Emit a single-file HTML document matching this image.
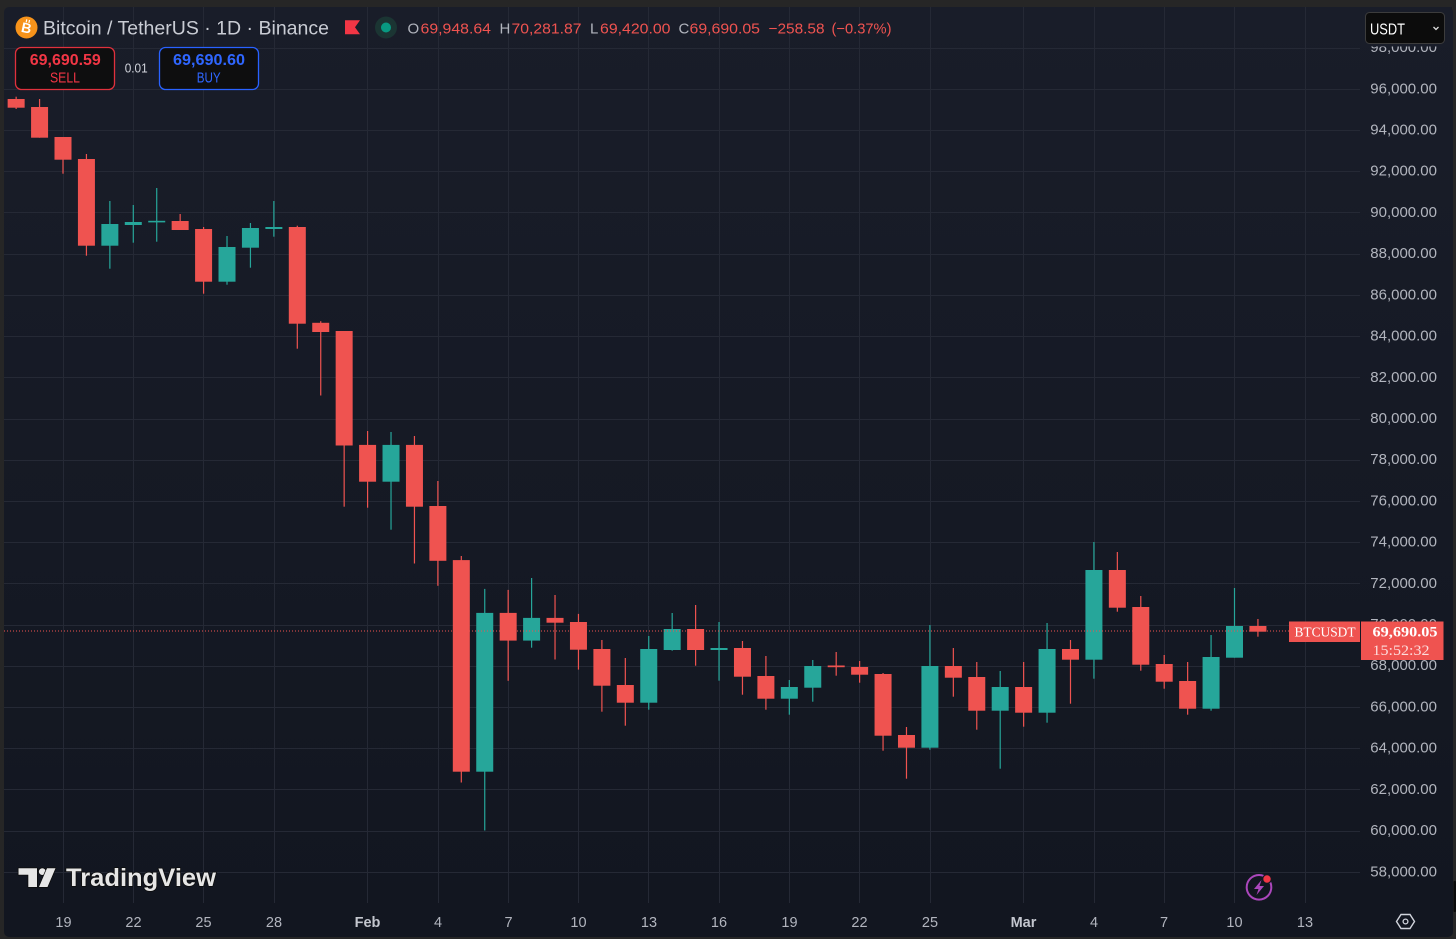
<!DOCTYPE html>
<html><head><meta charset="utf-8"><style>
html,body{margin:0;padding:0;background:#262626;}
svg{display:block;}
text{font-family:"Liberation Sans",sans-serif;}
</style></head><body>
<svg width="1456" height="939" viewBox="0 0 1456 939" xmlns="http://www.w3.org/2000/svg">
<defs>
<linearGradient id="bg" x1="0" y1="0" x2="0" y2="1">
<stop offset="0" stop-color="#191d29"/>
<stop offset="1" stop-color="#121620"/>
</linearGradient>
</defs>
<rect x="0" y="0" width="1456" height="939" fill="#262626"/>
<rect x="4" y="7" width="1449" height="930" rx="5" fill="url(#bg)"/>
<rect x="1453.5" y="881" width="2.5" height="31" rx="1" fill="#0a0a0a"/>

<!-- horizontal grid -->
<g stroke="#252935" stroke-width="1">
<line x1="4" x2="1360" y1="48.5" y2="48.5"/>
<line x1="4" x2="1360" y1="89.5" y2="89.5"/>
<line x1="4" x2="1360" y1="130.5" y2="130.5"/>
<line x1="4" x2="1360" y1="171.5" y2="171.5"/>
<line x1="4" x2="1360" y1="212.5" y2="212.5"/>
<line x1="4" x2="1360" y1="254.5" y2="254.5"/>
<line x1="4" x2="1360" y1="295.5" y2="295.5"/>
<line x1="4" x2="1360" y1="336.5" y2="336.5"/>
<line x1="4" x2="1360" y1="377.5" y2="377.5"/>
<line x1="4" x2="1360" y1="419.5" y2="419.5"/>
<line x1="4" x2="1360" y1="460.5" y2="460.5"/>
<line x1="4" x2="1360" y1="501.5" y2="501.5"/>
<line x1="4" x2="1360" y1="542.5" y2="542.5"/>
<line x1="4" x2="1360" y1="583.5" y2="583.5"/>
<line x1="4" x2="1360" y1="625.5" y2="625.5"/>
<line x1="4" x2="1360" y1="666.5" y2="666.5"/>
<line x1="4" x2="1360" y1="707.5" y2="707.5"/>
<line x1="4" x2="1360" y1="748.5" y2="748.5"/>
<line x1="4" x2="1360" y1="789.5" y2="789.5"/>
<line x1="4" x2="1360" y1="831.5" y2="831.5"/>
<line x1="4" x2="1360" y1="872.5" y2="872.5"/>
</g>
<!-- vertical grid -->
<g stroke="#252935" stroke-width="1">
<line x1="63.5" x2="63.5" y1="7" y2="903"/>
<line x1="133.5" x2="133.5" y1="7" y2="903"/>
<line x1="203.5" x2="203.5" y1="7" y2="903"/>
<line x1="274.5" x2="274.5" y1="7" y2="903"/>
<line x1="367.5" x2="367.5" y1="7" y2="903"/>
<line x1="438.5" x2="438.5" y1="7" y2="903"/>
<line x1="508.5" x2="508.5" y1="7" y2="903"/>
<line x1="578.5" x2="578.5" y1="7" y2="903"/>
<line x1="648.5" x2="648.5" y1="7" y2="903"/>
<line x1="719.5" x2="719.5" y1="7" y2="903"/>
<line x1="789.5" x2="789.5" y1="7" y2="903"/>
<line x1="859.5" x2="859.5" y1="7" y2="903"/>
<line x1="930.5" x2="930.5" y1="7" y2="903"/>
<line x1="1023.5" x2="1023.5" y1="7" y2="903"/>
<line x1="1094.5" x2="1094.5" y1="7" y2="903"/>
<line x1="1164.5" x2="1164.5" y1="7" y2="903"/>
<line x1="1234.5" x2="1234.5" y1="7" y2="903"/>
<line x1="1305.5" x2="1305.5" y1="7" y2="903"/>
</g>

<!-- candles red -->
<g fill="#ef5350">
<rect x="15.54" y="96.7" width="1.2" height="12.3"/><rect x="7.64" y="99" width="17" height="8.7"/>
<rect x="38.97" y="99" width="1.2" height="38.7"/><rect x="31.07" y="107" width="17" height="30.7"/>
<rect x="62.4" y="137" width="1.2" height="36.7"/><rect x="54.5" y="137" width="17" height="22.7"/>
<rect x="85.83" y="154" width="1.2" height="101.7"/><rect x="77.93" y="159" width="17" height="86.7"/>
<rect x="179.55" y="214" width="1.2" height="16"/><rect x="171.65" y="221" width="17" height="9"/>
<rect x="202.98" y="227" width="1.2" height="66.7"/><rect x="195.08" y="229" width="17" height="52.7"/>
<rect x="296.7" y="225.7" width="1.2" height="123"/><rect x="288.8" y="227" width="17" height="96.7"/>
<rect x="320.13" y="321.2" width="1.2" height="74.3"/><rect x="312.23" y="322.8" width="17" height="9.2"/>
<rect x="343.56" y="331" width="1.2" height="175.7"/><rect x="335.66" y="331" width="17" height="114.5"/>
<rect x="366.99" y="431" width="1.2" height="76.7"/><rect x="359.09" y="444.9" width="17" height="36.8"/>
<rect x="413.85" y="436" width="1.2" height="127.5"/><rect x="405.95" y="444.9" width="17" height="61.8"/>
<rect x="437.28" y="481" width="1.2" height="104.8"/><rect x="429.38" y="506" width="17" height="54.8"/>
<rect x="460.71" y="556" width="1.2" height="226.5"/><rect x="452.81" y="560.1" width="17" height="211.6"/>
<rect x="507.57" y="589.9" width="1.2" height="90.9"/><rect x="499.67" y="612.9" width="17" height="27.7"/>
<rect x="554.43" y="595" width="1.2" height="64.5"/><rect x="546.53" y="617.9" width="17" height="4.8"/>
<rect x="577.86" y="613.9" width="1.2" height="55.7"/><rect x="569.96" y="622" width="17" height="27.7"/>
<rect x="601.29" y="640" width="1.2" height="71.7"/><rect x="593.39" y="649" width="17" height="36.7"/>
<rect x="624.72" y="658" width="1.2" height="67.7"/><rect x="616.82" y="685" width="17" height="17.7"/>
<rect x="695.01" y="605" width="1.2" height="60.7"/><rect x="687.11" y="629" width="17" height="21"/>
<rect x="741.87" y="641" width="1.2" height="53.7"/><rect x="733.97" y="648" width="17" height="28.7"/>
<rect x="765.3" y="656" width="1.2" height="53.7"/><rect x="757.4" y="676" width="17" height="22.7"/>
<rect x="835.59" y="652" width="1.2" height="23.7"/><rect x="827.69" y="665.5" width="17" height="1.7"/>
<rect x="859.02" y="661" width="1.2" height="21.7"/><rect x="851.12" y="667" width="17" height="7.7"/>
<rect x="882.45" y="673" width="1.2" height="77.7"/><rect x="874.55" y="674" width="17" height="61.7"/>
<rect x="905.88" y="727" width="1.2" height="51.7"/><rect x="897.98" y="735" width="17" height="12.7"/>
<rect x="952.74" y="648" width="1.2" height="48.7"/><rect x="944.84" y="666" width="17" height="11.7"/>
<rect x="976.17" y="662" width="1.2" height="67.7"/><rect x="968.27" y="677" width="17" height="33.7"/>
<rect x="1023.03" y="662" width="1.2" height="64.7"/><rect x="1015.13" y="687" width="17" height="25.7"/>
<rect x="1069.89" y="640" width="1.2" height="63.7"/><rect x="1061.99" y="649" width="17" height="10.7"/>
<rect x="1116.75" y="552" width="1.2" height="59.7"/><rect x="1108.85" y="570" width="17" height="37.7"/>
<rect x="1140.18" y="596" width="1.2" height="74.7"/><rect x="1132.28" y="607" width="17" height="57.7"/>
<rect x="1163.61" y="655" width="1.2" height="33.7"/><rect x="1155.71" y="664" width="17" height="17.7"/>
<rect x="1187.04" y="662" width="1.2" height="52.7"/><rect x="1179.14" y="681" width="17" height="27.7"/>
<rect x="1257.33" y="619" width="1.2" height="17.7"/><rect x="1249.43" y="626" width="17" height="5.7"/>
</g>
<!-- candles green -->
<g fill="#26a69a">
<rect x="109.26" y="201" width="1.2" height="67.7"/><rect x="101.36" y="224" width="17" height="21.7"/>
<rect x="132.69" y="205" width="1.2" height="37.7"/><rect x="124.79" y="222" width="17" height="3"/>
<rect x="156.12" y="188" width="1.2" height="53.7"/><rect x="148.22" y="220.8" width="17" height="1.6"/>
<rect x="226.41" y="236" width="1.2" height="48.7"/><rect x="218.51" y="247" width="17" height="34.7"/>
<rect x="249.84" y="223" width="1.2" height="44.7"/><rect x="241.94" y="228" width="17" height="19.7"/>
<rect x="273.27" y="201" width="1.2" height="35.7"/><rect x="265.37" y="227" width="17" height="2"/>
<rect x="390.42" y="432" width="1.2" height="97.7"/><rect x="382.52" y="444.9" width="17" height="36.8"/>
<rect x="484.14" y="588.9" width="1.2" height="241.6"/><rect x="476.24" y="612.9" width="17" height="158.8"/>
<rect x="531" y="578" width="1.2" height="69.7"/><rect x="523.1" y="617.9" width="17" height="22.7"/>
<rect x="648.15" y="636" width="1.2" height="73.7"/><rect x="640.25" y="649" width="17" height="53.7"/>
<rect x="671.58" y="613" width="1.2" height="37.7"/><rect x="663.68" y="629" width="17" height="21"/>
<rect x="718.44" y="622" width="1.2" height="58.7"/><rect x="710.54" y="648" width="17" height="2"/>
<rect x="788.73" y="680" width="1.2" height="34.7"/><rect x="780.83" y="687" width="17" height="11.7"/>
<rect x="812.16" y="660" width="1.2" height="41.7"/><rect x="804.26" y="666" width="17" height="21.7"/>
<rect x="929.31" y="625" width="1.2" height="124.7"/><rect x="921.41" y="666" width="17" height="81.7"/>
<rect x="999.6" y="671" width="1.2" height="97.7"/><rect x="991.7" y="687" width="17" height="23.7"/>
<rect x="1046.46" y="623" width="1.2" height="99.7"/><rect x="1038.56" y="649" width="17" height="63.7"/>
<rect x="1093.32" y="542" width="1.2" height="136.7"/><rect x="1085.42" y="570" width="17" height="89.7"/>
<rect x="1210.47" y="635" width="1.2" height="75.7"/><rect x="1202.57" y="657" width="17" height="51.7"/>
<rect x="1233.9" y="588" width="1.2" height="69.7"/><rect x="1226" y="626" width="17" height="31.7"/>
</g>

<!-- last price dotted line -->
<line x1="4" x2="1289" y1="631" y2="631" stroke="#ef5350" stroke-width="1" stroke-dasharray="1 2"/>

<!-- price axis labels -->
<g font-size="15" fill="#b2b5be" text-anchor="end">
<text x="1437" y="52.1">98,000.00</text>
<text x="1437" y="93.3">96,000.00</text>
<text x="1437" y="134.5">94,000.00</text>
<text x="1437" y="175.7">92,000.00</text>
<text x="1437" y="216.9">90,000.00</text>
<text x="1437" y="258.1">88,000.00</text>
<text x="1437" y="299.4">86,000.00</text>
<text x="1437" y="340.6">84,000.00</text>
<text x="1437" y="381.8">82,000.00</text>
<text x="1437" y="423">80,000.00</text>
<text x="1437" y="464.2">78,000.00</text>
<text x="1437" y="505.4">76,000.00</text>
<text x="1437" y="546.6">74,000.00</text>
<text x="1437" y="587.8">72,000.00</text>
<text x="1437" y="629">70,000.00</text>
<text x="1437" y="670.2">68,000.00</text>
<text x="1437" y="711.5">66,000.00</text>
<text x="1437" y="752.7">64,000.00</text>
<text x="1437" y="793.9">62,000.00</text>
<text x="1437" y="835.1">60,000.00</text>
<text x="1437" y="876.3">58,000.00</text>
</g>
<!-- clip mask for top label -->
<rect x="1361" y="7" width="91" height="39.5" fill="#191d29"/>

<!-- price labels -->
<rect x="1289" y="621.5" width="71" height="20.5" fill="#ef5350"/>
<text x="1294.5" y="636.5" font-size="14" fill="#ffffff" textLength="61" lengthAdjust="spacingAndGlyphs" style="font-family:'Liberation Serif',serif">BTCUSDT</text>
<rect x="1361" y="621.5" width="82.5" height="38.5" fill="#ef5350"/>
<text x="1372.5" y="636.5" font-size="15" font-weight="bold" fill="#ffffff" textLength="65" lengthAdjust="spacingAndGlyphs" style="font-family:'Liberation Serif',serif">69,690.05</text>
<text x="1372.5" y="655" font-size="15" fill="#fcdcdc" textLength="57" lengthAdjust="spacingAndGlyphs" style="font-family:'Liberation Serif',serif">15:52:32</text>

<!-- USDT button -->
<rect x="1365.5" y="12.5" width="79" height="31" rx="4" fill="#0c0c0c" stroke="#3c3c3c" stroke-width="1"/>
<text x="1370" y="34.3" font-size="16" fill="#ffffff" textLength="35" lengthAdjust="spacingAndGlyphs">USDT</text>
<polyline points="1433.5,27 1436,29.5 1438.5,27" fill="none" stroke="#dddddd" stroke-width="1.3"/>

<!-- time axis -->
<g font-size="14.5" fill="#b2b5be" text-anchor="middle">
<text x="63.5" y="927">19</text>
<text x="133.5" y="927">22</text>
<text x="203.5" y="927">25</text>
<text x="274" y="927">28</text>
<text x="367.5" y="927" font-weight="bold" fill="#c3c6ce">Feb</text>
<text x="438" y="927">4</text>
<text x="508.5" y="927">7</text>
<text x="578.5" y="927">10</text>
<text x="649" y="927">13</text>
<text x="719" y="927">16</text>
<text x="789.5" y="927">19</text>
<text x="859.5" y="927">22</text>
<text x="930" y="927">25</text>
<text x="1023.5" y="927" font-weight="bold" fill="#c3c6ce">Mar</text>
<text x="1094" y="927">4</text>
<text x="1164" y="927">7</text>
<text x="1234.5" y="927">10</text>
<text x="1305" y="927">13</text>
</g>

<!-- settings hexagon -->
<polygon points="1396.5,921.5 1401,914.5 1410,914.5 1414.5,921.5 1410,928.5 1401,928.5" fill="none" stroke="#d1d4dc" stroke-width="1.4"/>
<circle cx="1405.5" cy="921.5" r="2.4" fill="none" stroke="#d1d4dc" stroke-width="1.3"/>

<!-- lightning icon -->
<circle cx="1259" cy="887.3" r="12.3" fill="none" stroke="#ab47bc" stroke-width="2"/>
<polygon points="1261.5,880 1254,889 1258.5,889 1256.5,895 1264,886 1259.5,886" fill="#ab47bc"/>
<circle cx="1267" cy="879" r="4.3" fill="#f23645" stroke="#131722" stroke-width="1.2"/>

<!-- TradingView logo -->
<g fill="#e6e6e6" stroke="#0b0b0b" stroke-width="1.5" paint-order="stroke" stroke-linejoin="round">
<path d="M18.5 868.3 H37 V887 H28.3 V874.7 H18.5 Z"/>
<circle cx="42.3" cy="871.6" r="3.4"/>
<polygon points="47,868.3 55.5,868.3 47.5,887 39,887"/>
<text x="66" y="886" font-size="25" font-weight="bold" textLength="150" lengthAdjust="spacingAndGlyphs">TradingView</text>
</g>

<!-- header -->
<circle cx="26.5" cy="27.5" r="11" fill="#f7931a"/>
<text x="26.5" y="32.8" font-size="14" font-weight="bold" fill="#ffffff" text-anchor="middle" transform="rotate(12 26.5 27.5)">B</text>
<rect x="24.5" y="19.5" width="1.2" height="3" fill="#fff" transform="rotate(12 26.5 27.5)"/>
<rect x="27.3" y="19.5" width="1.2" height="3" fill="#fff" transform="rotate(12 26.5 27.5)"/>
<text x="43" y="34.7" font-size="19.5" fill="#c9ccd4" textLength="286" lengthAdjust="spacingAndGlyphs">Bitcoin / TetherUS · 1D · Binance</text>
<polygon points="345,20.3 360,20.3 355,27.3 360,34.3 345,34.3" fill="#f23645"/>
<circle cx="386" cy="27.5" r="11" fill="#1b3533"/>
<circle cx="386" cy="27.5" r="5" fill="#089981"/>

<g font-size="15">
<text x="407.5" y="33.3" fill="#b2b5be">O</text>
<text x="420.5" y="33.3" fill="#ef5350" textLength="70.5" lengthAdjust="spacingAndGlyphs">69,948.64</text>
<text x="499.5" y="33.3" fill="#b2b5be">H</text>
<text x="511.5" y="33.3" fill="#ef5350" textLength="70" lengthAdjust="spacingAndGlyphs">70,281.87</text>
<text x="590" y="33.3" fill="#b2b5be">L</text>
<text x="600" y="33.3" fill="#ef5350" textLength="70.5" lengthAdjust="spacingAndGlyphs">69,420.00</text>
<text x="678.5" y="33.3" fill="#b2b5be">C</text>
<text x="689.5" y="33.3" fill="#ef5350" textLength="70.5" lengthAdjust="spacingAndGlyphs">69,690.05</text>
<text x="768.5" y="33.3" fill="#ef5350" textLength="56" lengthAdjust="spacingAndGlyphs">−258.58</text>
<text x="831.5" y="33.3" fill="#ef5350" textLength="60" lengthAdjust="spacingAndGlyphs">(−0.37%)</text>
</g>

<!-- sell / buy -->
<rect x="15.5" y="47.5" width="99" height="42" rx="6" fill="#0e0e0f" stroke="#e0313d" stroke-width="1.3"/>
<text x="65.3" y="65" font-size="16" font-weight="bold" fill="#f23645" text-anchor="middle" textLength="71" lengthAdjust="spacingAndGlyphs">69,690.59</text>
<text x="65" y="82.3" font-size="14.5" fill="#f23645" text-anchor="middle" textLength="30" lengthAdjust="spacingAndGlyphs">SELL</text>
<text x="136.2" y="72.3" font-size="13" fill="#d1d4dc" text-anchor="middle" textLength="23" lengthAdjust="spacingAndGlyphs">0.01</text>
<rect x="159.5" y="47.5" width="99" height="42" rx="6" fill="#0e0e0f" stroke="#2962ff" stroke-width="1.3"/>
<text x="209" y="65" font-size="16" font-weight="bold" fill="#2f66ff" text-anchor="middle" textLength="72" lengthAdjust="spacingAndGlyphs">69,690.60</text>
<text x="208.7" y="82.3" font-size="14.5" fill="#2f66ff" text-anchor="middle" textLength="24" lengthAdjust="spacingAndGlyphs">BUY</text>
</svg>
</body></html>
